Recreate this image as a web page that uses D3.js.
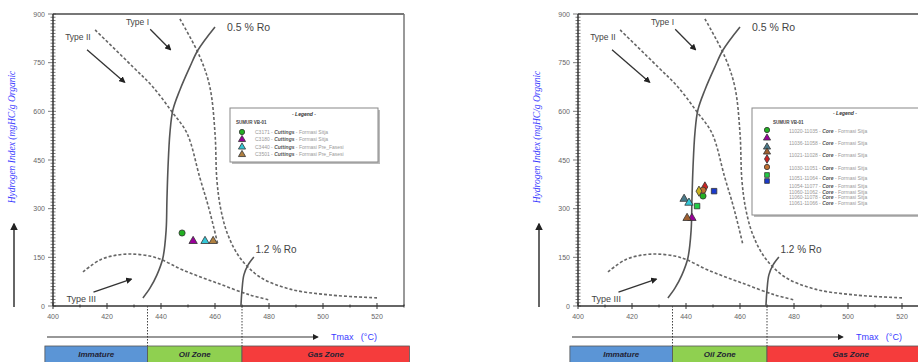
<!DOCTYPE html>
<html><head><meta charset="utf-8">
<script src="https://cdn.jsdelivr.net/npm/d3@7/dist/d3.min.js"></script>
<style>body{margin:0;background:#fff}svg{display:block}</style>
</head><body><svg id="c" width="918" height="362"></svg>
<script>
// ---------- data ----------
const tmaxTicks = [400,420,440,460,480,500,520];
const hiTicks = [0,150,300,450,600,750,900];
const zoneNames = ["Immature","Oil Zone","Gas Zone"];
const zoneBounds = [435,470];
// template curves [Tmax, HI]
const typeI = [[447,885],[454.4,768],[458.1,675],[460,533],[460.7,388],[462.2,296],[464.8,219],[469.3,148],[476.7,89],[487.8,52],[502.6,34],[520,25]];
const typeII = [[415.6,851],[429.6,737],[437,675],[444.1,598],[449.6,533],[454.4,395],[457.4,311],[459.6,240],[461.1,188]];
const typeIII = [[411.1,105],[417.4,142],[423.7,157],[429.6,160],[435.9,154],[440.4,142],[448.1,111],[460.7,71],[473,34],[480.4,18]];
const ro05 = [[460,860],[453.7,789],[450.7,737],[447,666],[444.4,604],[443.3,533],[442.6,428],[442.2,327],[441.9,234],[440.7,148],[438.5,96],[435.9,55],[433.3,25]];
const ro12 = [[469.6,0],[470,49],[470.7,96],[472.2,126],[474.4,151]];
// samples
const leftSamples = [
  {t:447.8, hi:225, m:"circle", c:"#22b022"},
  {t:451.9, hi:200, m:"triangle", c:"#990099"},
  {t:456.3, hi:200, m:"triangle", c:"#33c6d6"},
  {t:459.3, hi:200, m:"triangle", c:"#b08040"}
];
const leftLegend = ["C3171","C3180","C3440","C3501"];
const leftForm = ["Formasi Sitja","Formasi Sitja","Formasi Pre_Fasesi","Formasi Pre_Fasesi"];
const rightSamples = [
  {t:446.3, hi:339, m:"circle", c:"#22b022"},
  {t:442.2, hi:271, m:"triangle", c:"#990099"},
  {t:439.3, hi:330, m:"triangle", c:"#4a7a8a"},
  {t:440.4, hi:271, m:"triangle", c:"#a06030"},
  {t:447.0, hi:367, m:"diamond", c:"#cc2222"},
  {t:446.3, hi:357, m:"circle", c:"#c07030"},
  {t:444.1, hi:308, m:"square", c:"#22cc44"},
  {t:450.4, hi:354, m:"square", c:"#1a3acc"},
  {t:444.8, hi:354, m:"diamond", c:"#c8b020"},
  {t:441.1, hi:318, m:"triangle", c:"#33c6d6"}
];
const rightLegend = ["11020-11035","11036-11058","11021-11028","11030-11051","11051-11064","11054-11077","11060-11062","11060-11078","11061-11066"];
// ---------- drawing ----------
const svg = d3.select("#c");
const symMap = {circle:d3.symbolCircle, triangle:d3.symbolTriangle, square:d3.symbolSquare, diamond:d3.symbolDiamond};

function marker(g, m, c, x, y, size){
  g.append("path").attr("transform",`translate(${x},${y})`)
   .attr("d", d3.symbol().type(symMap[m]).size(size)())
   .attr("fill", c).attr("stroke","#333").attr("stroke-width",0.8);
}

function panel(ox, samples, legendFn){
  const g = svg.append("g").attr("transform",`translate(${ox},0)`);
  const x = d3.scaleLinear().domain([400,530]).range([53,404]);
  const y = d3.scaleLinear().domain([0,900]).range([306,14]);
  const line = d3.line().x(d=>x(d[0])).y(d=>y(d[1])).curve(d3.curveCatmullRom.alpha(0.5));

  // frame
  g.append("line").attr("x1",x(400)).attr("x2",x(530)).attr("y1",y(900)).attr("y2",y(900)).attr("stroke","#777").attr("stroke-width",2);
  g.append("line").attr("x1",x(530)).attr("x2",x(530)).attr("y1",y(900)).attr("y2",y(0)).attr("stroke","#777").attr("stroke-width",1.5);

  // y axis with minor ticks
  const yMinor = d3.range(0,901,10);
  g.selectAll(".ym").data(yMinor).join("line")
    .attr("x1",d=> d%150===0?x(400)-5:x(400)-2.5).attr("x2",d=> d%150===0?x(400)+3:x(400)+2.5)
    .attr("y1",d=>y(d)).attr("y2",d=>y(d)).attr("stroke","#444").attr("stroke-width",0.7);
  g.append("line").attr("x1",x(400)).attr("x2",x(400)).attr("y1",y(900)).attr("y2",y(0)).attr("stroke","#333").attr("stroke-width",1.5);
  g.selectAll(".yl").data(hiTicks).join("text")
    .attr("x",x(400)-8).attr("y",d=>y(d)+2.5).attr("text-anchor","end")
    .attr("font-family","Liberation Sans, Arial").attr("font-size",7).attr("fill","#666").text(d=>d);

  // x axis
  const xMinor = d3.range(400,531,10);
  g.selectAll(".xm").data(xMinor).join("line")
    .attr("x1",d=>x(d)).attr("x2",d=>x(d))
    .attr("y1",d=> d%20===0? y(0)-3:y(0)-1.5).attr("y2",d=> d%20===0? y(0)+3:y(0)+1.5)
    .attr("stroke","#333").attr("stroke-width",1);
  g.append("line").attr("x1",x(400)).attr("x2",x(530)).attr("y1",y(0)).attr("y2",y(0)).attr("stroke","#333").attr("stroke-width",1.5);
  g.selectAll(".xl").data(tmaxTicks).join("text")
    .attr("x",d=>x(d)).attr("y",y(0)+13).attr("text-anchor","middle")
    .attr("font-family","Liberation Sans, Arial").attr("font-size",7).attr("fill","#666").text(d=>d);

  // template curves
  [typeI,typeII,typeIII].forEach(c=>{
    g.append("path").attr("d",line(c)).attr("fill","none").attr("stroke","#666").attr("stroke-width",1.6).attr("stroke-dasharray","3,2");
  });
  [ro05,ro12].forEach(c=>{
    g.append("path").attr("d",line(c)).attr("fill","none").attr("stroke","#555").attr("stroke-width",1.6);
  });
  const lab = (t,xx,yy,fs)=>g.append("text").attr("x",xx).attr("y",yy).attr("font-family","Liberation Sans, Arial").attr("font-size",fs).attr("fill","#444").text(t);
  lab("0.5 % Ro", x(464.4), y(848), 10.5);
  lab("1.2 % Ro", x(475), y(162), 10);
  lab("Type I", x(427), y(865), 8.5);
  lab("Type II", x(404.5), y(820), 8.5);
  lab("Type III", x(405), y(12), 9);
  // arrows
  const arr = (a,b)=>{
    g.append("line").attr("x1",x(a[0])).attr("y1",y(a[1])).attr("x2",x(b[0])).attr("y2",y(b[1]))
     .attr("stroke","#333").attr("stroke-width",1.3).attr("marker-end","url(#ah)");
  };
  arr([436,853],[443.5,790]);
  arr([412.6,790],[426.5,690]);
  arr([415,43],[429,83]);

  // zone boundaries
  [435,470].forEach(t=>{
    g.append("line").attr("x1",x(t)).attr("x2",x(t)).attr("y1",y(0)).attr("y2",349)
     .attr("stroke","#444").attr("stroke-width",1).attr("stroke-dasharray","1.5,1.5");
  });
  // Tmax arrow
  g.append("line").attr("x1",47).attr("x2",x(498)).attr("y1",337).attr("y2",337).attr("stroke","#333").attr("stroke-width",1.2).attr("marker-end","url(#ah)");
  g.append("text").attr("x",x(503)).attr("y",340).attr("font-family","Liberation Sans, Arial").attr("font-size",9).attr("fill","#3a3aff").text("Tmax");
  g.append("text").attr("x",x(514)).attr("y",340).attr("font-family","Liberation Sans, Arial").attr("font-size",9).attr("fill","#3a3aff").text("(°C)");
  // zone bar
  const zb = [[397,435,"#5b95d6"],[435,470,"#8fd050"],[470,532,"#f53c3c"]];
  zb.forEach((z,i)=>{
    g.append("rect").attr("x",x(z[0])).attr("y",346).attr("width",x(z[1])-x(z[0])).attr("height",20)
     .attr("fill",z[2]).attr("stroke","#555").attr("stroke-width",0.8);
    g.append("text").attr("x",(x(z[0])+x(z[1]))/2).attr("y",357).attr("text-anchor","middle")
     .attr("font-family","Liberation Sans, Arial").attr("font-size",8).attr("font-weight","bold").attr("font-style","italic")
     .attr("fill","#223").text(zoneNames[i]);
  });
  // y label
  g.append("text").attr("transform","translate(15,137) rotate(-90)").attr("text-anchor","middle")
   .attr("font-family","Liberation Serif, Times New Roman").attr("font-style","italic").attr("font-size",9.5).attr("fill","#3a3aff")
   .text("Hydrogen Index (mgHC/g Organic");
  g.append("line").attr("x1",14).attr("x2",14).attr("y1",307).attr("y2",224).attr("stroke","#333").attr("stroke-width",1.5).attr("marker-end","url(#ah)");

  legendFn(g);
  // samples
  samples.forEach(s=> marker(g, s.m, s.c, x(s.t), y(s.hi), 30));
  return g;
}

svg.append("defs").append("marker").attr("id","ah").attr("viewBox","0 0 10 10").attr("refX",8).attr("refY",5)
  .attr("markerWidth",5).attr("markerHeight",5).attr("orient","auto")
  .append("path").attr("d","M0,0L10,5L0,10z").attr("fill","#222");

panel(0, leftSamples, g=>{
  g.append("rect").attr("x",232).attr("y",110).attr("width",148).attr("height",54).attr("fill","#bbb");
  g.append("rect").attr("x",230).attr("y",108).attr("width",148).attr("height",54).attr("fill","#fff").attr("stroke","#888").attr("stroke-width",1);
  g.append("text").attr("x",304).attr("y",116).attr("text-anchor","middle").attr("font-family","Liberation Sans, Arial").attr("font-size",5).attr("font-weight","bold").attr("font-style","italic").attr("fill","#333").text("- Legend -");
  g.append("text").attr("x",236).attr("y",124).attr("font-family","Liberation Sans, Arial").attr("font-size",4.5).attr("font-weight","bold").attr("fill","#444").text("SUMUR VB-01");
  leftLegend.forEach((t,i)=>{
    const yy = 132 + i*7.5;
    marker(g, leftSamples[i].m, leftSamples[i].c, 242, yy, 22);
    const tx = g.append("text").attr("x",255).attr("y",yy+1.8).attr("font-family","Liberation Sans, Arial").attr("font-size",5).attr("fill","#999");
    tx.append("tspan").text(t+" - ");
    tx.append("tspan").attr("font-weight","bold").attr("font-style","italic").attr("fill","#555").text("Cuttings");
    tx.append("tspan").text(" - "+leftForm[i]);
  });
});

panel(525, rightSamples, g=>{
  g.append("rect").attr("x",229).attr("y",110).attr("width",200).attr("height",107).attr("fill","#bbb");
  g.append("rect").attr("x",227).attr("y",108).attr("width",200).attr("height",107).attr("fill","#fff").attr("stroke","#888").attr("stroke-width",1);
  g.append("text").attr("x",320).attr("y",115).attr("text-anchor","middle").attr("font-family","Liberation Sans, Arial").attr("font-size",5).attr("font-weight","bold").attr("font-style","italic").attr("fill","#333").text("- Legend -");
  g.append("text").attr("x",248).attr("y",124).attr("font-family","Liberation Sans, Arial").attr("font-size",4.5).attr("font-weight","bold").attr("fill","#444").text("SUMUR VB-01");
  const my = [130,138,147,152,159,167,175,181];
  my.forEach((yy,i)=> marker(g, rightSamples[i].m, rightSamples[i].c, 242, yy, 22));
  const ty = [131,143,155,168,178,186,192,197,203];
  rightLegend.forEach((t,i)=>{
    const tx = g.append("text").attr("x",264).attr("y",ty[i]+1.8).attr("font-family","Liberation Sans, Arial").attr("font-size",5).attr("fill","#999");
    tx.append("tspan").text(t+" - ");
    tx.append("tspan").attr("font-weight","bold").attr("font-style","italic").attr("fill","#555").text("Core");
    tx.append("tspan").text(" - Formasi Sitja");
  });
});
</script></body></html>
